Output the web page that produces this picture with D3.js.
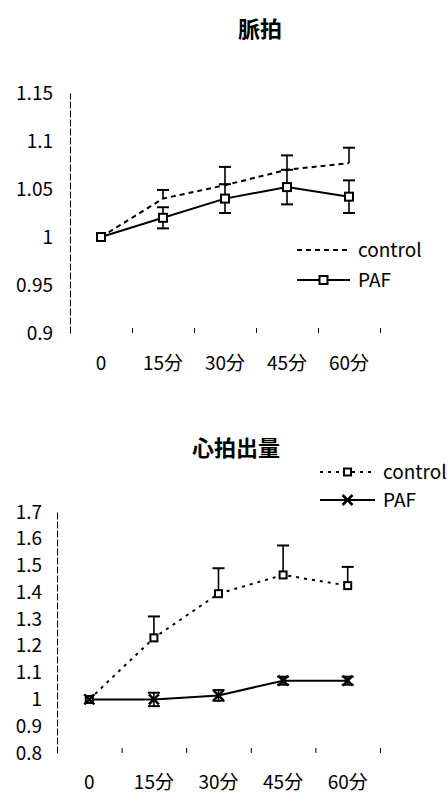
<!DOCTYPE html>
<html>
<head>
<meta charset="utf-8">
<script src="https://cdn.jsdelivr.net/npm/d3@7"></script>
<style>
  body { margin: 0; background: #fff; }
  text { font-family: "Noto Sans CJK JP", "Noto Sans", sans-serif; fill: #000; }
</style>
</head>
<body>
<div id="chart-area"></div>
<script>
// categories
var times = ["0", "15分", "30分", "45分", "60分"];

// 脈拍
var pulseTicks = [0.9, 0.95, 1, 1.05, 1.1, 1.15];
var pulseControl = [1.0, 1.040, 1.054, 1.070, 1.077];
var pulseControlErr = [0, 0.009, 0.019, 0.015, 0.016];
var pulsePAF = [1.0, 1.020, 1.040, 1.052, 1.042];
var pulsePAFErr = [0, 0.011, 0.015, 0.018, 0.017];

// 心拍出量
var coTicks = [0.8, 0.9, 1, 1.1, 1.2, 1.3, 1.4, 1.5, 1.6, 1.7];
var coControl = [1.0, 1.23, 1.395, 1.465, 1.425];
var coControlErr = [0, 0.08, 0.095, 0.11, 0.07];
var coPAF = [1.0, 1.0, 1.015, 1.07, 1.07];
var coPAFErr = [0, 0.025, 0.02, 0.015, 0.015];

var svg = d3.select("#chart-area")
  .append("svg")
  .attr("width", 448)
  .attr("height", 792);

function square(g, cx, cy, s) {
  g.append("rect")
    .attr("x", cx - s / 2).attr("y", cy - s / 2)
    .attr("width", s).attr("height", s)
    .attr("fill", "#fff").attr("stroke", "#000").attr("stroke-width", 2);
}

function cross(g, cx, cy, s) {
  g.append("path")
    .attr("d", "M" + (cx - s) + "," + (cy - s) + "L" + (cx + s) + "," + (cy + s) +
               "M" + (cx - s) + "," + (cy + s) + "L" + (cx + s) + "," + (cy - s))
    .attr("stroke", "#000").attr("stroke-width", 2.5);
}

function errBars(g, x, y, vals, errs, both) {
  vals.forEach(function(v, i) {
    if (!errs[i]) return;
    var cx = x(times[i]) + x.bandwidth() / 2;
    var top = y(v + errs[i]);
    var bot = both ? y(v - errs[i]) : y(v);
    g.append("line").attr("x1", cx).attr("x2", cx).attr("y1", top).attr("y2", bot)
      .attr("stroke", "#000").attr("stroke-width", 1.6);
    g.append("line").attr("x1", cx - 6).attr("x2", cx + 6).attr("y1", top).attr("y2", top)
      .attr("stroke", "#000").attr("stroke-width", 2);
    if (both) {
      g.append("line").attr("x1", cx - 6).attr("x2", cx + 6).attr("y1", bot).attr("y2", bot)
        .attr("stroke", "#000").attr("stroke-width", 2);
    }
  });
}

function drawChart(opt) {
  var g = svg.append("g");
  var x = d3.scaleBand().domain(times).range([opt.left, opt.right]).padding(0);
  var y = d3.scaleLinear().domain(opt.domain).range([opt.bottom, opt.top]);
  var cx = function(d, i) { return x(times[i]) + x.bandwidth() / 2; };

  // title
  g.append("text")
    .attr("x", opt.titleX).attr("y", opt.titleY)
    .attr("text-anchor", "middle")
    .attr("font-size", "22px").attr("font-weight", "bold")
    .text(opt.title);

  // y axis
  var yAxis = g.append("g")
    .attr("transform", "translate(" + opt.left + ",0)")
    .call(d3.axisLeft(y).tickValues(opt.ticks).tickSize(0).tickPadding(opt.labelGap)
      .tickFormat(function(d) { return d3.format("")(+d.toFixed(2)); }));
  yAxis.select(".domain").attr("stroke", "#000").attr("stroke-width", 1).attr("stroke-dasharray", "7,2");
  yAxis.selectAll("text").attr("font-size", "19px").attr("fill", "#000")
    .style("font-family", '"Noto Sans CJK JP", sans-serif');

  // x ticks at category boundaries
  var xb = d3.scaleLinear().domain([0, times.length]).range([opt.left, opt.right]);
  var xTicks = g.append("g")
    .attr("transform", "translate(0," + opt.bottom + ")")
    .call(d3.axisTop(xb).ticks(times.length).tickSize(5).tickFormat(""));
  xTicks.select(".domain").remove();
  xTicks.selectAll("line").attr("stroke", "#000").attr("stroke-width", 1);

  // x labels
  var xAxis = g.append("g")
    .attr("transform", "translate(0," + opt.labelY + ")")
    .call(d3.axisBottom(x).tickSize(0).tickPadding(0));
  xAxis.select(".domain").remove();
  xAxis.selectAll("text").attr("font-size", "19px").attr("fill", "#000")
    .style("font-family", '"Noto Sans CJK JP", sans-serif');

  var line = d3.line().x(cx).y(function(d) { return y(d); });

  // control
  g.append("path").datum(opt.control)
    .attr("d", line).attr("fill", "none")
    .attr("stroke", "#000").attr("stroke-width", 2).attr("stroke-dasharray", opt.dash);
  errBars(g, x, y, opt.control, opt.controlErr, false);

  // PAF
  g.append("path").datum(opt.paf)
    .attr("d", line).attr("fill", "none")
    .attr("stroke", "#000").attr("stroke-width", 2);
  errBars(g, x, y, opt.paf, opt.pafErr, true);

  if (opt.controlMarker) {
    opt.control.forEach(function(v, i) { square(g, cx(v, i), y(v), 7); });
  }
  opt.paf.forEach(function(v, i) {
    if (opt.pafMarker === "square") square(g, cx(v, i), y(v), 8);
    else cross(g, cx(v, i), y(v), 5);
  });

  // legend
  var L = opt.legend;
  var lg = g.append("g");
  lg.append("line").attr("x1", L.x1).attr("x2", L.x2).attr("y1", L.y1).attr("y2", L.y1)
    .attr("stroke", "#000").attr("stroke-width", 2).attr("stroke-dasharray", opt.dash);
  if (opt.controlMarker) square(lg, (L.x1 + L.x2) / 2, L.y1, 7);
  lg.append("text").attr("x", L.tx).attr("y", L.y1 + 7).attr("font-size", "19px").text("control");
  lg.append("line").attr("x1", L.x1).attr("x2", L.x2).attr("y1", L.y2).attr("y2", L.y2)
    .attr("stroke", "#000").attr("stroke-width", 2);
  if (opt.pafMarker === "square") square(lg, (L.x1 + L.x2) / 2, L.y2, 8);
  else cross(lg, (L.x1 + L.x2) / 2, L.y2, 5);
  lg.append("text").attr("x", L.tx).attr("y", L.y2 + 7).attr("font-size", "19px").text("PAF");
}

drawChart({
  title: "脈拍", titleX: 260, titleY: 37,
  left: 70, right: 380, top: 93, bottom: 333,
  domain: [0.9, 1.15], ticks: pulseTicks, labelGap: 17, labelY: 356,
  control: pulseControl, controlErr: pulseControlErr,
  paf: pulsePAF, pafErr: pulsePAFErr,
  dash: "5,4", controlMarker: false, pafMarker: "square",
  legend: { x1: 297, x2: 350, y1: 250, y2: 280, tx: 358 }
});

drawChart({
  title: "心拍出量", titleX: 236, titleY: 456,
  left: 57, right: 380, top: 512, bottom: 753,
  domain: [0.8, 1.7], ticks: coTicks, labelGap: 15, labelY: 775,
  control: coControl, controlErr: coControlErr,
  paf: coPAF, pafErr: coPAFErr,
  dash: "3,5", controlMarker: true, pafMarker: "cross",
  legend: { x1: 320, x2: 375, y1: 472, y2: 500, tx: 383 }
});
</script>
</body>
</html>
